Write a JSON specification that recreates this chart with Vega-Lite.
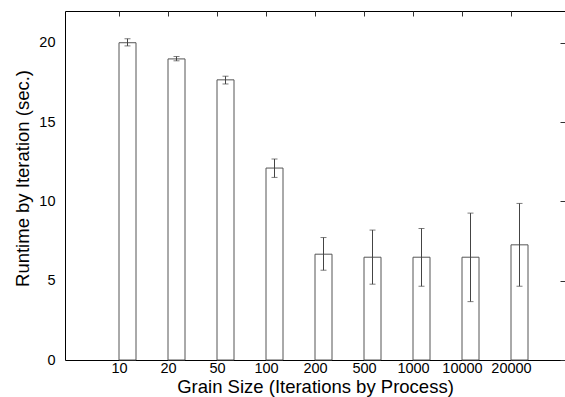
{
  "$schema": "https://vega.github.io/schema/vega-lite/v6.json",
  "width": 500,
  "height": 349,
  "autosize": {"type": "none"},
  "padding": {"left": 65, "top": 11, "right": 0, "bottom": 37},
  "config": {
    "font": "Liberation Sans",
    "view": {"stroke": "black", "strokeWidth": 1},
    "axis": {
      "domain": false,
      "grid": false,
      "labelColor": "black",
      "labelFont": "Liberation Sans",
      "labelFontSize": 14.5,
      "titleFont": "Liberation Sans",
      "titleFontSize": 18.5,
      "titleFontWeight": "normal",
      "titleColor": "black",
      "tickColor": "#333",
      "tickWidth": 1
    }
  },
  "data": {
    "values": [
      {"idx": 1, "grain": "10", "runtime": 20.0, "lo": 19.8, "hi": 20.25},
      {"idx": 2, "grain": "20", "runtime": 18.98, "lo": 18.86, "hi": 19.13},
      {"idx": 3, "grain": "50", "runtime": 17.66, "lo": 17.4, "hi": 17.89},
      {"idx": 4, "grain": "100", "runtime": 12.1, "lo": 11.51, "hi": 12.67},
      {"idx": 5, "grain": "200", "runtime": 6.67, "lo": 5.66, "hi": 7.72},
      {"idx": 6, "grain": "500", "runtime": 6.48, "lo": 4.78, "hi": 8.19},
      {"idx": 7, "grain": "1000", "runtime": 6.48, "lo": 4.65, "hi": 8.29},
      {"idx": 8, "grain": "10000", "runtime": 6.48, "lo": 3.68, "hi": 9.26},
      {"idx": 9, "grain": "20000", "runtime": 7.26, "lo": 4.65, "hi": 9.87}
    ]
  },
  "layer": [
    {
      "mark": {"type": "bar", "fill": "white", "stroke": "#555", "strokeWidth": 1, "size": 17, "xOffset": 8.5},
      "encoding": {
        "x": {
          "field": "idx", "type": "quantitative",
          "scale": {"domain": [0, 10], "nice": false, "zero": false},
          "axis": {
            "orient": "bottom",
            "values": [1, 2, 3, 4, 5, 6, 7, 8, 9],
            "labelExpr": "['','10','20','50','100','200','500','1000','10000','20000'][datum.value]",
            "tickSize": -5,
            "labelPadding": 6,
            "title": "Grain Size (Iterations by Process)",
            "titleBaseline": "alphabetic",
            "titleY": 32
          }
        },
        "y": {
          "field": "runtime", "type": "quantitative",
          "scale": {"domain": [0, 22], "nice": false},
          "axis": {
            "orient": "left",
            "values": [0, 5, 10, 15, 20],
            "ticks": false,
            "labelPadding": 10,
            "title": "Runtime by Iteration (sec.)",
            "titleY": 167,
            "titlePadding": 6
          }
        }
      }
    },
    {
      "mark": {"type": "rule", "stroke": "#444", "strokeWidth": 1, "xOffset": 8.5},
      "encoding": {
        "x": {
          "field": "idx", "type": "quantitative",
          "axis": {"orient": "top", "values": [1, 2, 3, 4, 5, 6, 7, 8, 9], "labels": false, "tickSize": -5, "title": null}
        },
        "y": {
          "field": "lo", "type": "quantitative",
          "axis": {"orient": "right", "values": [0, 5, 10, 15, 20], "labels": false, "tickSize": -5, "title": null}
        },
        "y2": {"field": "hi"}
      }
    },
    {
      "mark": {"type": "tick", "orient": "horizontal", "color": "#444", "size": 6, "thickness": 1, "xOffset": 8.5},
      "encoding": {
        "x": {"field": "idx", "type": "quantitative", "axis": null},
        "y": {"field": "lo", "type": "quantitative", "axis": null}
      }
    },
    {
      "mark": {"type": "tick", "orient": "horizontal", "color": "#444", "size": 6, "thickness": 1, "xOffset": 8.5},
      "encoding": {
        "x": {"field": "idx", "type": "quantitative", "axis": null},
        "y": {"field": "hi", "type": "quantitative", "axis": null}
      }
    }
  ],
  "resolve": {"axis": {"x": "independent", "y": "independent"}}
}
